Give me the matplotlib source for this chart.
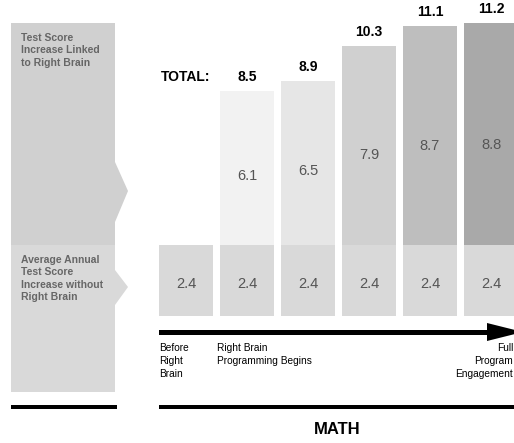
import matplotlib.pyplot as plt
from matplotlib.patches import Polygon, Rectangle

plt.rcParams['font.family'] = ['Liberation Sans', 'DejaVu Sans']

# data
stages = ["Before Right Brain", "Begins", "Stage 3", "Stage 4", "Stage 5", "Full"]
base = [2.4, 2.4, 2.4, 2.4, 2.4, 2.4]
linked = [0, 6.1, 6.5, 7.9, 8.7, 8.8]
totals = [None, 8.5, 8.9, 10.3, 11.1, 11.2]
top_colors = ['#ffffff', '#f2f2f2', '#e6e6e6', '#d0d0d0', '#bebebe', '#a9a9a9']
base_color = '#d9d9d9'

W, H = 514, 443
fig = plt.figure(figsize=(W / 100, H / 100), dpi=100)

def fbox(x0, y0, x1, y1):
    # pixel box (top-left origin) -> figure fraction rect
    return [x0 / W, 1 - y1 / H, (x1 - x0) / W, (y1 - y0) / H]

# x mapping: bar i centre at 186 + 61*i px
xl = lambda p: (p - 186) / 61
width = 54 / 61

# overlay for decorations
ov = fig.add_axes([0, 0, 1, 1])
ov.set_xlim(0, W)
ov.set_ylim(H, 0)
ov.axis('off')

# top bars (increase linked to right brain)
ax_top = fig.add_axes(fbox(150, 0, 514, 245))
ax_top.set_xlim(xl(150), xl(514))
ax_top.set_ylim(0, 245 / 25.2)
ax_top.axis('off')
x = list(range(len(stages)))
ax_top.bar(x[1:], linked[1:], width=width, color=top_colors[1:], clip_on=False)
for i in x[1:]:
    ax_top.text(i, linked[i] * 0.45, f"{linked[i]}", ha='center', va='center',
                fontsize=10.5, color='#555555')
    ax_top.annotate(f"{totals[i]}", (i, linked[i]), xytext=(0, 5),
                    textcoords='offset points', ha='center', va='bottom',
                    fontsize=10, fontweight='bold', color='black')
ax_top.annotate("TOTAL:", (0, linked[1]), xytext=(0, 5),
                textcoords='offset points', ha='center', va='bottom',
                fontsize=10, fontweight='bold', color='black')

# bottom tiles (baseline annual increase)
ax_bot = fig.add_axes(fbox(150, 245, 514, 316))
ax_bot.set_xlim(xl(150), xl(514))
ax_bot.set_ylim(0, 2.4)
ax_bot.axis('off')
ax_bot.bar(x, base, width=width, color=base_color)
for i in x:
    ax_bot.text(i, base[i] * 0.45, f"{base[i]}", ha='center', va='center',
                fontsize=10.5, color='#555555')

# left label boxes with notches
ov.add_patch(Polygon([(11, 23), (115, 23), (115, 162), (128, 191), (115, 222),
                      (115, 245), (11, 245)], closed=True, color='#d0d0d0', lw=0))
ov.add_patch(Polygon([(11, 245), (115, 245), (115, 270), (128, 287), (115, 305),
                      (115, 392), (11, 392)], closed=True, color='#d9d9d9', lw=0))
ov.text(21, 33, "Test Score\nIncrease Linked\nto Right Brain", ha='left', va='top',
        fontsize=7.5, fontweight='bold', color='#666666', linespacing=1.3)
ov.text(21, 255, "Average Annual\nTest Score\nIncrease without\nRight Brain",
        ha='left', va='top', fontsize=7.5, fontweight='bold', color='#666666',
        linespacing=1.3)

# timeline arrow
ov.add_patch(Rectangle((159, 329.5), 330, 5, color='black', lw=0))
ov.add_patch(Polygon([(487, 323), (523, 332), (487, 341)], closed=True,
                     color='black', lw=0))

ov.text(159, 343, "Before\nRight\nBrain", ha='left', va='top', fontsize=7.3,
        linespacing=1.35)
ov.text(217, 343, "Right Brain\nProgramming Begins", ha='left', va='top',
        fontsize=7.3, linespacing=1.35)
ov.text(513, 343, "Full\nProgram\nEngagement", ha='right', va='top', fontsize=7.3,
        linespacing=1.35, multialignment='right')

# bottom rules
ov.add_patch(Rectangle((11, 405), 106, 4, color='black', lw=0))
ov.add_patch(Rectangle((159, 405), 360, 4, color='black', lw=0))
ov.text(337, 430, "MATH", ha='center', va='center', fontsize=12, fontweight='bold')

fig.savefig('out.png', dpi=100)
